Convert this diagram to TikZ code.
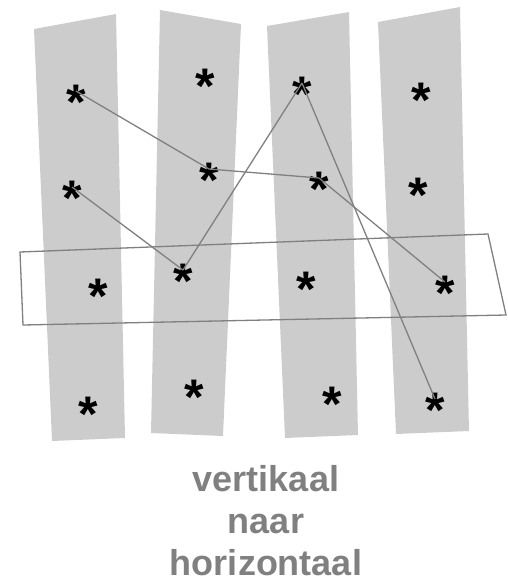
\documentclass[tikz,border=0pt]{standalone}
\usepackage{fontspec}
\setmainfont{Liberation Sans}
\definecolor{bandgray}{RGB}{204,204,204}
\definecolor{linegray}{RGB}{128,128,128}
\tikzset{
  band/.style={fill=bandgray},
  star/.style={inner sep=0pt,text height=4pt,text depth=4pt,
    font=\bfseries\fontsize{50}{50}\selectfont},
  caption/.style={align=center,text=linegray,inner sep=0pt,
    font=\bfseries\fontsize{36}{42}\selectfont}
}
\newcommand\starmark{\raisebox{-28.5pt}{*}}

\begin{document}
\begin{tikzpicture}
  [x=1pt,y=-1pt,line width=1.3pt]
  \useasboundingbox (0,0) rectangle (507,582);
  % vertical bands
  \fill[band] (34,29) -- (116,14) -- (125,438) -- (52,441) -- cycle;
  \fill[band] (160,10) -- (241,24) -- (223,436) -- (151,433) -- cycle;
  \fill[band] (267,26) -- (349,12) -- (358,435) -- (285,438) -- cycle;
  \fill[band] (378,22) -- (460,7) -- (469,431) -- (396,434) -- cycle;
  % horizontal frame
  \draw[linegray] (20,252) -- (488,234) -- (506,315) -- (23,325) -- cycle;
  % stars
  \node[star] (a1) at (76,91) {\starmark};
  \node[star] (a2) at (72,187) {\starmark};
  \node[star] (a3) at (98,285) {\starmark};
  \node[star] (a4) at (88,403) {\starmark};
  \node[star] (b1) at (205,75) {\starmark};
  \node[star] (b2) at (209,169) {\starmark};
  \node[star] (b3) at (183,270) {\starmark};
  \node[star] (b4) at (194,386) {\starmark};
  \node[star] (c1) at (302,83) {\starmark};
  \node[star] (c2) at (319,178) {\starmark};
  \node[star] (c3) at (306,278) {\starmark};
  \node[star] (c4) at (332,393) {\starmark};
  \node[star] (d1) at (421,89) {\starmark};
  \node[star] (d2) at (418,184) {\starmark};
  \node[star] (d3) at (445,282) {\starmark};
  \node[star] (d4) at (435,399) {\starmark};
  \foreach \from/\to in {a1/b2,b2/c2,c2/d3,a2/b3,b3/c1,c1/d4}
    \draw[linegray] (\from.center) -- (\to.center);
  \node[caption,anchor=base] (cap) at (266,575) {vertikaal\\naar\\horizontaal};
\end{tikzpicture}
\end{document}
